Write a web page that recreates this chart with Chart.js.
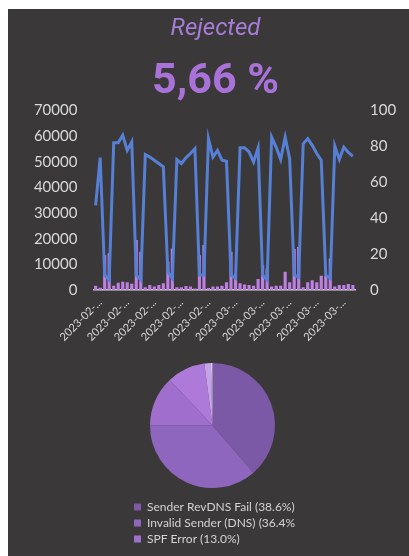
<!DOCTYPE html>
<html>
<head>
<meta charset="utf-8">
<script src="https://cdn.jsdelivr.net/npm/chart.js"></script>
<style>
  body { margin: 0; background: #ffffff; }
  #panel { position: absolute; left: 8px; top: 9px; width: 401px; height: 547px; background: #3a3838; }
  #mainChart { position: absolute; left: 8px; top: 9px; }
  #pieChart { position: absolute; left: 130px; top: 354px; }
</style>
</head>
<body>
<div id="panel"></div>
<canvas id="mainChart" width="401" height="343"></canvas>
<canvas id="pieChart" width="165" height="201"></canvas>
<script>
'use strict';

// daily categories (shown truncated on the axis)
const days = [
  '2023-02-02', '2023-02-03', '2023-02-04', '2023-02-05', '2023-02-06', '2023-02-07', '2023-02-08',
  '2023-02-09', '2023-02-10', '2023-02-11', '2023-02-12', '2023-02-13', '2023-02-14', '2023-02-15',
  '2023-02-16', '2023-02-17', '2023-02-18', '2023-02-19', '2023-02-20', '2023-02-21', '2023-02-22',
  '2023-02-23', '2023-02-24', '2023-02-25', '2023-02-26', '2023-02-27', '2023-02-28', '2023-03-01',
  '2023-03-02', '2023-03-03', '2023-03-04', '2023-03-05', '2023-03-06', '2023-03-07', '2023-03-08',
  '2023-03-09', '2023-03-10', '2023-03-11', '2023-03-12', '2023-03-13', '2023-03-14', '2023-03-15',
  '2023-03-16', '2023-03-17', '2023-03-18', '2023-03-19', '2023-03-20', '2023-03-21', '2023-03-22',
  '2023-03-23', '2023-03-24', '2023-03-25', '2023-03-26', '2023-03-27', '2023-03-28', '2023-03-29',
  '2023-03-30', '2023-03-31'
];

// total mails per day (left axis)
const totalMails = [
  33000, 51600, 5800, 3900, 57400, 57400, 60300, 54400, 57700, 5800,
  3900, 52800, 51800, 50600, 49300, 48000, 7100, 4500, 50800, 49300,
  51500, 53200, 55100, 5800, 5800, 59000, 51800, 54400, 50600, 50200,
  5800, 4600, 55400, 55400, 53800, 49900, 55400, 5800, 3900, 59600,
  55700, 50900, 59600, 51200, 5800, 5000, 57000, 59000, 56400, 53200,
  50600, 5800, 4500, 56100, 50900, 55700, 53600, 52200
];

// rejected share per day in % (right axis)
const rejectedPct = [
  2.4, 1.3, 19.4, 20.4, 2.4, 4.1, 4.6, 4.3, 3.5, 27.8,
  21.3, 1.5, 2.8, 2.0, 2.8, 3.7, 15.7, 23.1, 1.5, 1.5,
  2.2, 1.9, 0.9, 19.4, 25.0, 1.1, 1.9, 1.9, 2.4, 4.3,
  21.3, 9.3, 3.7, 3.1, 2.8, 2.4, 6.1, 13.9, 12.0, 1.9,
  2.4, 2.4, 10.2, 4.3, 22.8, 24.0, 1.5, 4.3, 5.4, 4.3,
  8.0, 8.0, 17.6, 1.9, 2.8, 2.8, 3.3, 2.8
];

// reject reasons
const reasons = ['Sender RevDNS Fail (38.6%)', 'Invalid Sender (DNS) (36.4%)', 'SPF Error (13.0%)', 'Other A', 'Other B', 'Other C'];
const reasonShare = [38.6, 36.4, 13.0, 9.9, 1.7, 0.4];
const reasonColors = ['#7c59a6', '#8e66bd', '#a06ecd', '#ad7ad9', '#c6a2e9', '#dcc8f2'];

const tickColor = '#d9d9d9';

const mainConfig = {
  type: 'bar',
  data: {
    labels: days,
    datasets: [
      {
        type: 'line',
        label: 'Mails',
        data: totalMails,
        yAxisID: 'y',
        borderColor: '#5680d6',
        borderWidth: 3,
        pointRadius: 0,
        tension: 0,
        order: 0
      },
      {
        type: 'bar',
        label: 'Rejected %',
        data: rejectedPct,
        yAxisID: 'y1',
        backgroundColor: '#bd7fe2',
        barPercentage: 0.7,
        categoryPercentage: 1,
        order: 1
      }
    ]
  },
  options: {
    responsive: false,
    animation: false,
    devicePixelRatio: 1,
    layout: { padding: { left: 14, right: 0, top: 0, bottom: 0 } },
    plugins: {
      legend: { display: false },
      tooltip: { enabled: false },
      title: {
        display: true,
        text: 'Rejected',
        color: '#a77cd6',
        font: { family: 'Roboto', size: 24, style: 'italic', weight: '400' },
        padding: { top: 6, bottom: 0 }
      },
      subtitle: {
        display: true,
        text: '5,66 %',
        color: '#a872d9',
        font: { family: 'Roboto', size: 43, weight: 'bold' },
        padding: { top: 13, bottom: 2 }
      }
    },
    scales: {
      x: {
        grid: { display: false, drawTicks: false },
        border: { display: true, color: '#d9d9d9', width: 1.5 },
        ticks: {
          color: tickColor,
          font: { family: 'Lato', size: 11 },
          autoSkip: false,
          maxRotation: 45,
          minRotation: 45,
          padding: 6,
          callback: function(value, index) {
            return index % 6 === 1 ? days[index].slice(0, 8) + '...' : '';
          }
        },
        afterFit: function(axis) { axis.height = 62; }
      },
      y: {
        position: 'left',
        min: 0,
        max: 70000,
        grid: { display: false, drawTicks: false },
        border: { display: false },
        ticks: {
          stepSize: 10000,
          color: tickColor,
          font: { family: 'Lato', size: 15 },
          padding: 16,
          callback: function(value) { return String(value); }
        },
        afterFit: function(axis) { axis.width = 71.4; }
      },
      y1: {
        position: 'right',
        min: 0,
        max: 100,
        grid: { display: false, drawTicks: false },
        border: { display: false },
        ticks: { stepSize: 20, color: tickColor, font: { family: 'Lato', size: 15 }, padding: 15 },
        afterFit: function(axis) { axis.width = 53.9; }
      }
    }
  }
};

const pieConfig = {
  type: 'pie',
  data: {
    labels: reasons,
    datasets: [{
      data: reasonShare,
      backgroundColor: reasonColors,
      borderWidth: 0,
      radius: 62.5
    }]
  },
  options: {
    responsive: false,
    animation: false,
    devicePixelRatio: 1,
    layout: { padding: 0 },
    plugins: {
      tooltip: { enabled: false },
      legend: {
        position: 'bottom',
        align: 'start',
        labels: {
          color: '#d4d4d4',
          font: { family: 'Lato', size: 12 },
          boxWidth: 7,
          boxHeight: 7,
          padding: 4,
          filter: function(item) { return item.index < 3; }
        }
      }
    }
  }
};

new Chart(document.getElementById('mainChart'), mainConfig);
new Chart(document.getElementById('pieChart'), pieConfig);
</script>
</body>
</html>
